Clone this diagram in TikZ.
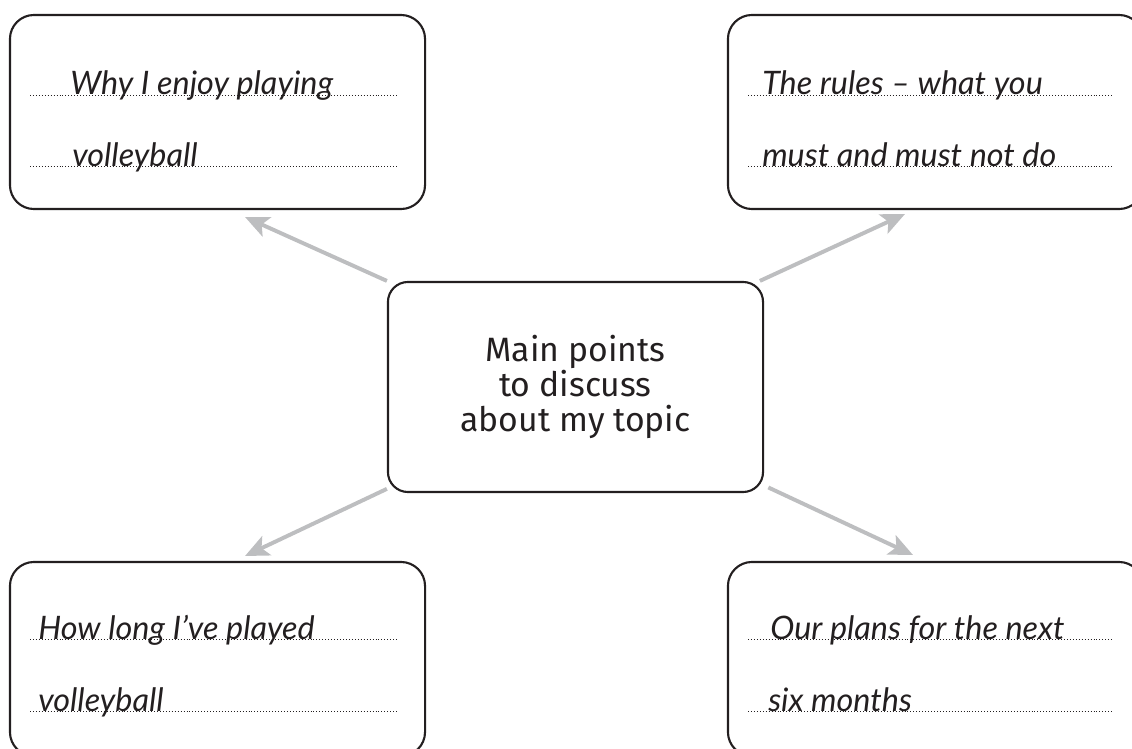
\documentclass[tikz,border=0pt]{standalone}
\usepackage{fontspec}
\newfontfamily\handfont{Lato}
\newfontfamily\labelfont{Fira Sans}
\usetikzlibrary{arrows.meta}
\definecolor{arrowgray}{HTML}{BDBEC0}
\definecolor{inkblack}{HTML}{231F20}
\begin{document}
\begin{tikzpicture}
        [
            x=0.025cm, y=-0.025cm,
            topicbox/.style = {draw=inkblack, line width=1.5pt, rounded corners=0.6cm, minimum width=10.375cm, minimum height=4.85cm, inner sep=0pt},
            mainbox/.style = {draw=inkblack, line width=1.5pt, rounded corners=0.5cm, minimum width=9.375cm, minimum height=5.25cm, align=center, font=\labelfont\fontsize{24}{25}\selectfont, text=inkblack},
            hand/.style = {anchor=base west, inner sep=0pt, font=\handfont\itshape\fontsize{23}{25}\selectfont, text=inkblack},
            writeline/.style = {draw=inkblack, line width=0.6pt, dash pattern=on 0.6pt off 1.5pt},
            pointer/.style = {draw=arrowgray, line width=2.8pt, -{Stealth[length=17pt, width=15pt, inset=4pt]}},
        ]
        \useasboundingbox (0,0) rectangle (1132,749);
        \clip (0,0) rectangle (1132,749);
        \node [mainbox] (main) at (575.5,387) {Main points\\to discuss\\about my topic};
        \node [topicbox] (why) at (217.5,112) {};
        \node [topicbox] (rules) at (935.5,112) {};
        \node [topicbox] (howlong) at (217.5,659) {};
        \node [topicbox] (plans) at (935.5,659) {};
        \node [hand] (why1) at (70,95) {Why I enjoy playing};
        \node [hand] (why2) at (72,166) {volleyball};
        \node [hand] (rules1) at (762,95) {The rules – what you};
        \node [hand] (rules2) at (762,166) {must and must not do};
        \node [hand] (howlong1) at (38,639) {How long I’ve played};
        \node [hand] (howlong2) at (38,711) {volleyball};
        \node [hand] (plans1) at (770,639) {Our plans for the next};
        \node [hand] (plans2) at (768,711) {six months};
        \draw[writeline] (30,95) -- (397,95);
        \draw[writeline] (30,166) -- (397,166);
        \draw[writeline] (748,95) -- (1113,95);
        \draw[writeline] (748,166) -- (1113,166);
        \draw[writeline] (30,639) -- (397,639);
        \draw[writeline] (30,711) -- (397,711);
        \draw[writeline] (748,639) -- (1113,639);
        \draw[writeline] (748,711) -- (1113,711);
        \coordinate (whytip) at (245,217);
        \coordinate (rulestip) at (905,214);
        \coordinate (howlongtip) at (245,556);
        \coordinate (planstip) at (913,555);
        \draw[pointer] (main.north west) -- (whytip);
        \draw[pointer] ([xshift=-3pt]main.north east) -- (rulestip);
        \draw[pointer] ([yshift=3pt]main.south west) -- (howlongtip);
        \draw[pointer] ([xshift=3pt,yshift=4pt]main.south east) -- (planstip);
\end{tikzpicture}
\end{document}
